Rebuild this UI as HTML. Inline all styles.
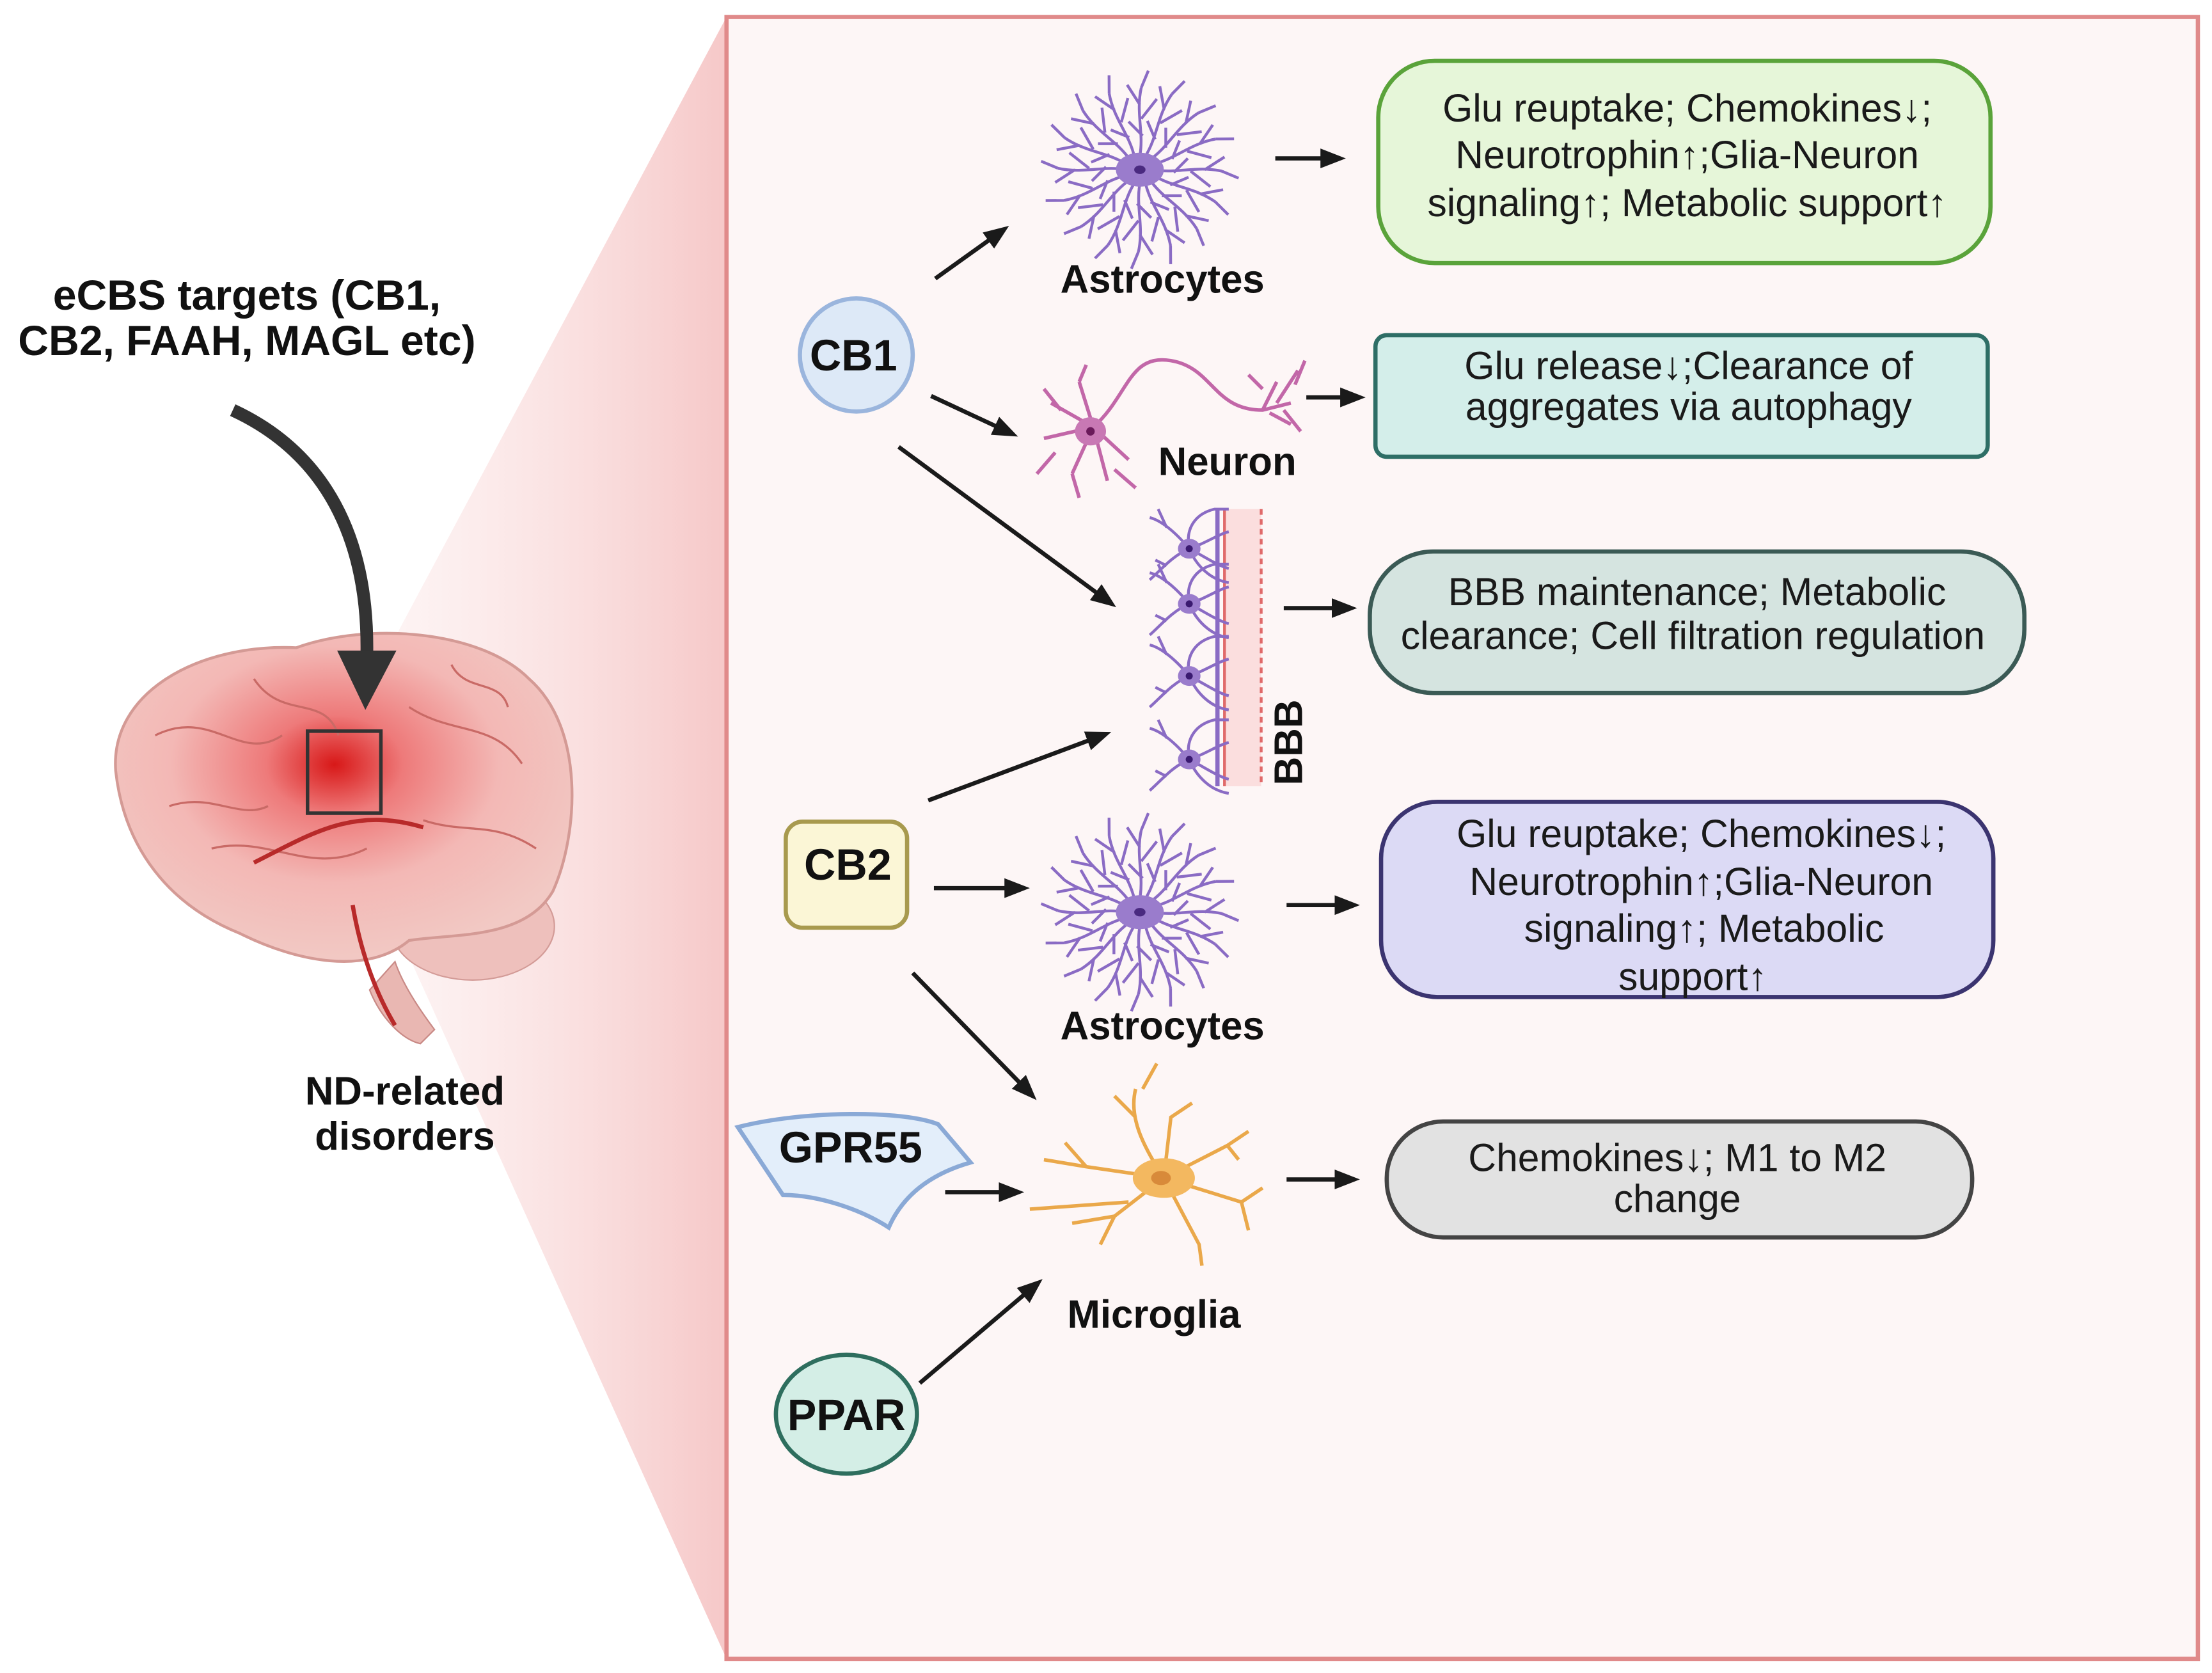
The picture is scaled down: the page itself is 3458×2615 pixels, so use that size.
<!DOCTYPE html>
<html><head><meta charset="utf-8">
<style>
html,body{margin:0;padding:0;background:#fff;}
svg{display:block;}
text{font-family:"Liberation Sans",Arial,sans-serif;}
.lb{font-weight:bold;font-size:28px;fill:#111;text-anchor:middle;}
.bx{font-size:27.5px;fill:#1a1a1a;text-anchor:middle;}
</style></head>
<body>
<svg width="3458" height="2615" viewBox="0 0 1568 1183" preserveAspectRatio="none" xmlns="http://www.w3.org/2000/svg">
<defs>
<linearGradient id="wg" x1="0" y1="0" x2="1" y2="0">
<stop offset="0" stop-color="#fbe6e6" stop-opacity="0.3"/>
<stop offset="1" stop-color="#f6c8c8"/>
</linearGradient>
<radialGradient id="br" cx="0.48" cy="0.4" r="0.6">
<stop offset="0" stop-color="#d81818"/>
<stop offset="0.25" stop-color="#ee7a7a"/>
<stop offset="0.6" stop-color="#f3b8b5"/>
<stop offset="1" stop-color="#f2c9c4"/>
</radialGradient>
<marker id="ah" markerWidth="18" markerHeight="16" refX="14" refY="8" orient="auto" markerUnits="userSpaceOnUse">
<path d="M0,1 L18,8 L0,15 Z" fill="#1a1a1a"/>
</marker>
<g id="ray">
<path d="M0,-10 C3,-26 -3,-40 1,-58 M1,-36 L12,-50 M0,-46 L-9,-60 M1,-58 L6,-70 M2,-24 L-8,-34" stroke="#8a6bc4" stroke-width="2" fill="none"/>
</g>
<g id="astro">
<use href="#ray" transform="rotate(0)"/><use href="#ray" transform="rotate(22)"/><use href="#ray" transform="rotate(45)"/><use href="#ray" transform="rotate(67)"/>
<use href="#ray" transform="rotate(90)"/><use href="#ray" transform="rotate(112)"/><use href="#ray" transform="rotate(135)"/><use href="#ray" transform="rotate(157)"/>
<use href="#ray" transform="rotate(180)"/><use href="#ray" transform="rotate(202)"/><use href="#ray" transform="rotate(225)"/><use href="#ray" transform="rotate(247)"/>
<use href="#ray" transform="rotate(270)"/><use href="#ray" transform="rotate(292)"/><use href="#ray" transform="rotate(315)"/><use href="#ray" transform="rotate(337)"/>
<ellipse cx="0" cy="0" rx="17" ry="12" fill="#9a7ccc"/>
<ellipse cx="0" cy="0" rx="4" ry="3" fill="#4a2a80"/>
</g>
<g id="bcell">
<path d="M0,0 C-10,-12 -20,-20 -28,-22 M0,0 C-12,5 -20,15 -28,22 M0,0 C-3,-15 5,-25 18,-28 L28,-28 M0,0 C10,-3 20,-10 28,-12 M0,0 C10,5 20,12 28,14 M0,0 C5,12 15,22 28,24 M-16,-15 L-22,-28 M-16,12 L-24,8" stroke="#8a6bc4" stroke-width="2" fill="none"/>
<ellipse cx="0" cy="0" rx="8" ry="7" fill="#9a7ccc"/><circle r="2.5" fill="#3a1a70"/>
</g>
</defs>
<rect width="1568" height="1183" fill="#fff"/>
<polygon points="244,518 515,12 515,1173 244,575" fill="url(#wg)"/>
<rect x="515" y="12" width="1043" height="1161" fill="#fdf6f6" stroke="#e08a8a" stroke-width="3"/>

<text class="lb" x="175" y="219" style="font-size:30px">eCBS targets (CB1,</text>
<text class="lb" x="175" y="251" style="font-size:30px">CB2, FAAH, MAGL etc)</text>

<!-- brain -->
<path d="M262,700 C270,720 285,735 298,738 L308,728 C296,712 285,695 280,680 Z" fill="#e9b7b2" stroke="#c98a86" stroke-width="1"/>
<ellipse cx="335" cy="655" rx="58" ry="38" fill="#eec0bc" stroke="#d39b97"/>
<path d="M82,545 C78,490 140,455 210,458 C260,440 340,445 375,480 C415,515 410,590 392,630 C372,665 320,660 290,665 C260,690 210,680 170,660 C120,640 88,600 82,545 Z" fill="url(#br)" stroke="#d49a95" stroke-width="2"/>
<path d="M110,520 C150,500 170,540 200,520 M150,600 C190,590 220,620 260,600 M290,500 C320,520 350,510 370,540 M180,480 C200,510 230,490 240,520 M300,580 C330,590 350,580 380,600 M120,570 C150,560 170,580 190,570 M320,470 C330,490 355,480 360,500" stroke="#c96a66" stroke-width="1.5" fill="none"/>
<path d="M180,610 C220,590 250,570 300,585 M250,640 C255,670 265,700 280,725" stroke="#b82a2a" stroke-width="3" fill="none"/>
<rect x="218" y="517" width="52" height="58" fill="none" stroke="#333" stroke-width="2.5"/>
<!-- curved arrow -->
<path d="M165,290 C230,320 262,380 260,465" stroke="#333" stroke-width="9" fill="none"/>
<polygon points="239,460 281,460 259,502" fill="#333"/>
<text class="lb" x="287" y="781">ND-related</text>
<text class="lb" x="287" y="813">disorders</text>

<!-- receptors -->
<circle cx="607" cy="251" r="40" fill="#dde9f7" stroke="#9ab5dd" stroke-width="3"/>
<text class="lb" x="605" y="262" style="font-size:31px">CB1</text>
<rect x="557" y="581" width="86" height="75" rx="12" fill="#fbf6d6" stroke="#a89a4e" stroke-width="3"/>
<text class="lb" x="601" y="622" style="font-size:31px">CB2</text>
<path d="M523,797 C570,785 640,785 665,795 L688,822 C660,830 640,845 630,868 C610,855 580,845 555,845 Z" fill="#e3eefa" stroke="#8aa9d6" stroke-width="3"/>
<text class="lb" x="603" y="822" style="font-size:31px">GPR55</text>
<ellipse cx="600" cy="1000" rx="50" ry="42" fill="#d4eee6" stroke="#2e6e5e" stroke-width="3"/>
<text class="lb" x="600" y="1011" style="font-size:31px">PPAR</text>

<!-- cells -->
<use href="#astro" transform="translate(808,120)"/>
<text class="lb" x="824" y="207">Astrocytes</text>
<g stroke="#c267a8" stroke-width="2.5" fill="none">
<path d="M775,302 C800,280 800,250 830,255 C860,260 860,290 895,290 L915,285"/>
<path d="M895,290 L905,270 M905,285 L920,262 M910,290 L922,305 M900,292 L915,300 M895,275 L885,265 M918,272 L925,255"/>
<path d="M775,302 L745,285 M775,302 L740,310 M775,302 L760,335 M775,302 L785,340 M775,302 L800,325 M775,302 L765,270 M752,290 L740,275 M748,320 L735,335 M790,332 L805,345 M760,335 L765,352 M765,270 L770,258"/>
</g>
<ellipse cx="773" cy="305" rx="11" ry="10" fill="#c878b4"/>
<circle cx="773" cy="305" r="3" fill="#6a1a5a"/>
<text class="lb" x="870" y="336">Neuron</text>
<rect x="869" y="360" width="25" height="196" fill="#fbdede"/>
<line x1="868" y1="360" x2="868" y2="556" stroke="#e06a6a" stroke-width="2"/>
<line x1="894" y1="360" x2="894" y2="556" stroke="#e06a6a" stroke-width="2" stroke-dasharray="4,3"/>
<line x1="863" y1="360" x2="863" y2="556" stroke="#8a6bc4" stroke-width="3"/>
<use href="#bcell" transform="translate(843,388)"/>
<use href="#bcell" transform="translate(843,427)"/>
<use href="#bcell" transform="translate(843,478)"/>
<use href="#bcell" transform="translate(843,537)"/>
<text class="lb" transform="translate(923,525) rotate(-90)" x="0" y="0">BBB</text>
<use href="#astro" transform="translate(808,645)"/>
<text class="lb" x="824" y="735">Astrocytes</text>
<g stroke="#eaa84a" stroke-width="2.5" fill="none">
<path d="M825,833 C810,810 800,790 805,770 M805,790 L790,775 M810,770 L820,752 M825,833 L870,810 L885,800 M870,810 L878,820 M825,833 L880,850 L895,840 M880,850 L885,870 M825,833 L850,880 L852,895 M825,833 L790,860 L780,880 M790,860 L760,865 M825,833 L770,825 L740,820 M770,825 L755,808 M825,833 L830,790 L845,780 M800,850 L730,855"/>
</g>
<ellipse cx="825" cy="833" rx="22" ry="14" fill="#f3b860"/>
<ellipse cx="823" cy="833" rx="7" ry="5" fill="#d88a3a"/>
<text class="lb" x="818" y="939">Microglia</text>

<g stroke="#1a1a1a" stroke-width="3" fill="none" marker-end="url(#ah)">
<line x1="663" y1="197" x2="712" y2="162"/>
<line x1="660" y1="280" x2="718" y2="307"/>
<line x1="637" y1="316" x2="788" y2="427"/>
<line x1="658" y1="566" x2="784" y2="519"/>
<line x1="662" y1="628" x2="726" y2="628"/>
<line x1="647" y1="688" x2="732" y2="775"/>
<line x1="670" y1="843" x2="722" y2="843"/>
<line x1="652" y1="978" x2="736" y2="907"/>
<line x1="904" y1="112" x2="950" y2="112"/>
<line x1="926" y1="281" x2="964" y2="281"/>
<line x1="910" y1="430" x2="958" y2="430"/>
<line x1="912" y1="640" x2="960" y2="640"/>
<line x1="912" y1="834" x2="960" y2="834"/>
</g>

<rect x="977" y="43" width="434" height="143" rx="40" fill="#e6f6d9" stroke="#5aa33a" stroke-width="3"/>
<text class="bx" x="1196" y="86">Glu reuptake; Chemokines↓;</text>
<text class="bx" x="1196" y="119">Neurotrophin↑;Glia-Neuron</text>
<text class="bx" x="1196" y="153">signaling↑; Metabolic support↑</text>
<rect x="975" y="237" width="434" height="86" rx="8" fill="#d4eeea" stroke="#2e6e66" stroke-width="3"/>
<text class="bx" x="1197" y="268">Glu release↓;Clearance of</text>
<text class="bx" x="1197" y="297">aggregates via autophagy</text>
<rect x="971" y="390" width="464" height="100" rx="45" fill="#d5e4e0" stroke="#3b5a55" stroke-width="3"/>
<text class="bx" x="1203" y="428">BBB maintenance; Metabolic</text>
<text class="bx" x="1200" y="459">clearance; Cell filtration regulation</text>
<rect x="979" y="567" width="434" height="138" rx="40" fill="#dcdaf5" stroke="#3b3470" stroke-width="3"/>
<text class="bx" x="1206" y="599">Glu reuptake; Chemokines↓;</text>
<text class="bx" x="1206" y="633">Neurotrophin↑;Glia-Neuron</text>
<text class="bx" x="1208" y="666">signaling↑; Metabolic</text>
<text class="bx" x="1200" y="700">support↑</text>
<rect x="983" y="793" width="415" height="82" rx="40" fill="#e2e2e2" stroke="#444" stroke-width="3"/>
<text class="bx" x="1189" y="828">Chemokines↓; M1 to M2</text>
<text class="bx" x="1189" y="857">change</text>
</svg>
</body></html>
